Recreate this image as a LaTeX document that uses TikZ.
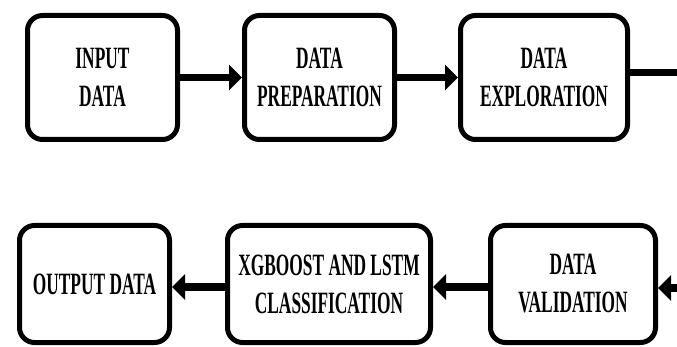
\documentclass[tikz,border=0pt]{standalone}
\usepackage{fontspec}
\newfontfamily\condb{Liberation Serif}[FakeStretch=0.56]
\usetikzlibrary{arrows.meta}
\tikzset{
  stage/.style={draw=black, line width=5pt, rounded corners=15pt, fill=white,
    inner sep=0pt, align=center,
    font=\condb\bfseries\fontsize{31}{38}\selectfont},
  flow/.style={line width=7pt, -{Triangle[length=13pt,width=25pt]}},
  plainflow/.style={line width=7pt}
}
\begin{document}
\begin{tikzpicture}[x=1pt,y=-1pt]
\useasboundingbox (0,0) rectangle (677,347);
\node[stage, minimum width=150pt, minimum height=124pt] (B1) at (102.5,77.5) {INPUT\\DATA};
\node[stage, minimum width=150pt, minimum height=124pt] (B2) at (319.5,77.5) {DATA\\PREPARATION};
\node[stage, minimum width=167pt, minimum height=124pt] (B3) at (544,77.5) {DATA\\EXPLORATION};
\node[stage, minimum width=165pt, minimum height=117pt] (B4) at (573,284) {DATA\\VALIDATION};
\node[stage, minimum width=203pt, minimum height=117pt] (B5) at (329,284) {XGBOOST AND LSTM\\CLASSIFICATION};
\node[stage, minimum width=150pt, minimum height=117pt] (B6) at (94.5,284) {OUTPUT DATA};
\coordinate (r1) at (677,73);
\coordinate (r2) at (677,288);
\coordinate (m) at (0,287);
\draw[flow] (B1.east) -- (B2.west);
\draw[flow] (B2.east) -- (B3.west);
\draw[plainflow] (B3.east |- r1) -- (r1);
\draw[flow] (r2) -- (B4.east |- r2);
\draw[flow] (B4.west |- m) -- (B5.east |- m);
\draw[flow] (B5.west |- m) -- (B6.east |- m);
\end{tikzpicture}
\end{document}
